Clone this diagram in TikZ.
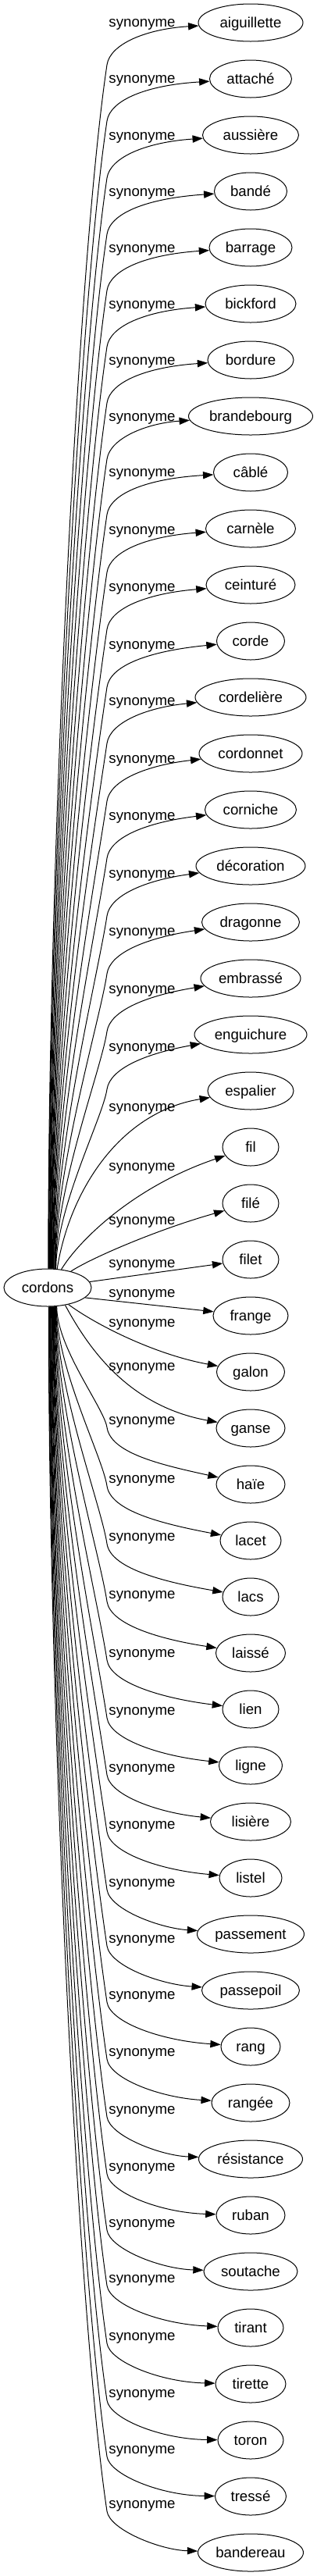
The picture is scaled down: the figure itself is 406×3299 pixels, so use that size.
\documentclass[tikz,border=0pt]{standalone}
\usepackage{fontspec}
\setmainfont{Liberation Sans}
\usetikzlibrary{arrows.meta,shapes.geometric}
\begin{document}
\begin{tikzpicture}[x=0.75pt,y=-0.75pt,
  every node/.style={font=\fontsize{14pt}{16pt}\selectfont, text height=12pt, text depth=3pt, inner sep=0pt},
  tgt/.style={ellipse, draw, line width=0.75pt, minimum height=36pt},
  lab/.style={},
  syn/.style={line width=0.75pt, -{Triangle[length=10pt,width=7pt]}}]
\fill[white] (0,0) rectangle (406,3299);
\useasboundingbox (0,0) rectangle (406,3299);
\node[tgt, minimum width=84pt] (cordons) at (61,1649) {cordons};
\foreach \n/\txt/\w in {1/aiguillette/134, 2/attaché/105, 3/aussière/123, 4/bandé/93, 5/barrage/106, 6/bickford/116, 7/bordure/110, 8/brandebourg/159, 9/câblé/95, 10/carnèle/115, 11/ceinturé/114, 12/corde/87, 13/cordelière/142, 14/cordonnet/132, 15/corniche/117, 16/décoration/140, 17/dragonne/125, 18/embrassé/128, 19/enguichure/144, 20/espalier/110, 21/fil/72, 22/filé/72, 23/filet/72, 24/frange/96, 25/galon/87, 26/ganse/88, 27/haïe/88, 28/lacet/78, 29/lacs/72, 30/laissé/89, 31/lien/72, 32/ligne/81, 33/lisière/103, 34/listel/80, 35/passement/137, 36/passepoil/125, 37/rang/76, 38/rangée/100, 39/résistance/133, 40/ruban/88, 41/soutache/120, 42/tirant/84, 43/tirette/90, 44/toron/84, 45/tressé/91, 46/bandereau/135}{
  \pgfmathsetmacro\ww{\w*0.75}
  \node[tgt, minimum width=\ww pt] (n\n) at (321,{29+72*(\n-1)}) {\txt};
}
\foreach \n/\ly in {1/28, 2/100, 3/173, 4/245, 5/317, 6/389, 7/461, 8/533, 9/604, 10/678, 11/751, 12/825, 13/897, 14/971, 15/1044, 16/1118, 17/1192, 18/1266, 19/1340, 20/1417, 21/1493, 22/1562, 23/1617, 24/1655, 25/1693, 26/1749, 27/1818, 28/1893, 29/1967, 30/2041, 31/2116, 32/2190, 33/2263, 34/2336, 35/2410, 36/2482, 37/2554, 38/2627, 39/2701, 40/2774, 41/2846, 42/2917, 43/2991, 44/3064, 45/3136, 46/3206}{
  \node[lab] (l\n) at (182,\ly) {synonyme};
}
% upper edges
\foreach \n/\ly in {1/28, 2/100, 3/173, 4/245, 5/317, 6/389, 7/461, 8/533, 9/604, 10/678, 11/751, 12/825, 13/897, 14/971, 15/1044, 16/1118, 17/1192, 18/1266, 19/1340}{
  \pgfmathsetmacro\dx{0.55*\n}
  \pgfmathsetmacro\yT{\ly+55}
  \pgfmathsetmacro\DD{1625-\yT}
  \pgfmathsetmacro\ca{1625-0.34*\DD}
  \pgfmathsetmacro\cbx{137-0.024*\DD}
  \pgfmathsetmacro\cby{\yT+0.16*\DD}
  \pgfmathtruncatemacro\ang{atan2(24*sqrt(1-(\dx/56)^2),\dx)}
  \draw[syn] (cordons.\ang) .. controls ({61+\dx},\ca) and (\cbx,\cby) .. (137,\yT) .. controls (141,{\ly+28}) and (188,{\ly+9}) .. (n\n);
}
\draw[syn] (cordons.63) .. controls (88,1530) and (150,1425) .. (n20);
\draw[syn] (cordons.53) .. controls (100,1590) and (170,1520) .. (n21);
\draw[syn] (cordons.35) .. controls (115,1612) and (200,1575) .. (n22);
\draw[syn] (cordons) -- (n23);
\draw[syn] (cordons.-15) -- (n24);
\draw[syn] (cordons.-39) .. controls (125,1698) and (200,1735) .. (n25);
\draw[syn] (cordons.-45) .. controls (110,1720) and (160,1800) .. (n26);
% lower edges
\foreach \n/\ly in {27/1818, 28/1893, 29/1967, 30/2041, 31/2116, 32/2190, 33/2263, 34/2336, 35/2410, 36/2482, 37/2554, 38/2627, 39/2701, 40/2774, 41/2846, 42/2917, 43/2991, 44/3064, 45/3136, 46/3206}{
  \pgfmathsetmacro\dx{1+(46-\n)*0.55}
  \pgfmathsetmacro\yn{29+72*(\n-1)}
  \pgfmathsetmacro\yT{\ly+10}
  \pgfmathsetmacro\DD{\yT-1673}
  \pgfmathsetmacro\ca{1673+0.34*\DD}
  \pgfmathsetmacro\cbx{137-0.024*\DD}
  \pgfmathsetmacro\cby{\yT-0.16*\DD}
  \pgfmathsetmacro\ccy{\yT+0.45*(\yn-\yT)}
  \pgfmathsetmacro\ccx{137+0.15*0.45*(\yn-\yT)}
  \pgfmathsetmacro\kk{max(0,(\yn-\ly-60)*1.1)}
  \pgfmathtruncatemacro\ang{-atan2(24*sqrt(1-(\dx/56)^2),\dx)}
  \draw[syn] (cordons.\ang) .. controls ({61+\dx},\ca) and (\cbx,\cby) .. (137,\yT) .. controls (\ccx,\ccy) and (205,{\yn-\kk}) .. (n\n);
}
\end{tikzpicture}
\end{document}
